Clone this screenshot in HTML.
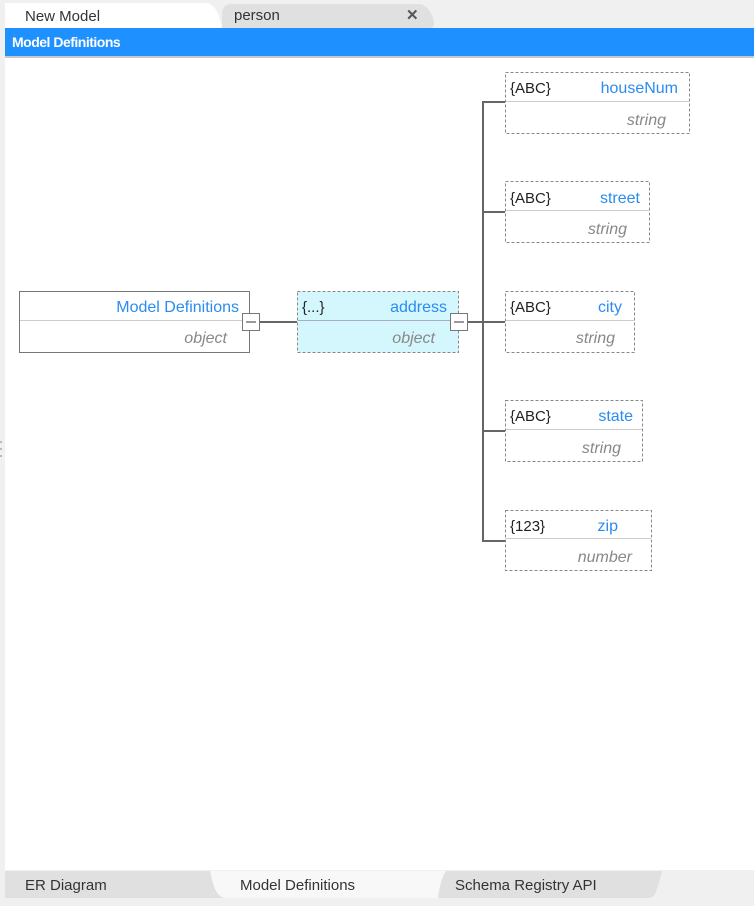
<!DOCTYPE html>
<html><head><meta charset="utf-8"><style>
html,body{margin:0;padding:0;width:754px;height:906px;overflow:hidden;background:#f0f0f0;font-family:"Liberation Sans",sans-serif}
</style></head><body>
<svg width="754" height="906" xmlns="http://www.w3.org/2000/svg" style="position:absolute;left:0;top:0">
<rect x="0" y="0" width="754" height="906" fill="#f0f0f0"/>
<path d="M222,28 L430,28 Q436,28 433,18 Q428,4 418,4 L232,4 Q222,4 222,14 Z" fill="#e0e0e0"/>
<path d="M5,28 L222,28 Q218,6 208,3 L5,3 Z" fill="#ffffff"/>
<text x="25" y="21" font-size="15" fill="#333">New Model</text>
<text x="234" y="20" font-size="15" fill="#333">person</text>
<text x="406" y="20" font-size="15" font-weight="bold" fill="#555">✕</text>
<rect x="5" y="28" width="749" height="28" fill="#1e90ff"/>
<rect x="5" y="56" width="749" height="2" fill="#c8c8c8"/>
<text x="12" y="47" font-size="14" font-weight="bold" fill="#fff" letter-spacing="-0.5">Model Definitions</text>
<rect x="5" y="58" width="749" height="812" fill="#ffffff"/>
<circle cx="1" cy="442" r="1" fill="#aaa"/><circle cx="1" cy="449" r="1" fill="#aaa"/><circle cx="1" cy="456" r="1" fill="#aaa"/>
<g stroke="#666" stroke-width="2" fill="none">
<line x1="260" y1="322" x2="297" y2="322"/>
<line x1="468" y1="322" x2="505" y2="322"/>
<path d="M505,102 L483,102 L483,541 L505,541"/>
<line x1="483" y1="212" x2="505" y2="212"/>
<line x1="483" y1="431" x2="505" y2="431"/>
</g>
<rect x="19.5" y="291.5" width="230" height="61" fill="#fff" stroke="#777"/>
<line x1="20" y1="320.5" x2="249" y2="320.5" stroke="#ccc"/>
<text x="239" y="312" font-size="16" fill="#2a8cf0" text-anchor="end">Model Definitions</text>
<text x="227" y="343" font-size="16" fill="#888" font-style="italic" text-anchor="end">object</text>
<rect x="242.5" y="313.5" width="17" height="17" fill="#fff" stroke="#777"/>
<line x1="246" y1="322" x2="256" y2="322" stroke="#777" stroke-width="1.5"/>
<rect x="297.5" y="291.5" width="161" height="61" fill="#d4f7fd" stroke="#888" stroke-dasharray="3,2"/>
<line x1="298" y1="320.5" x2="458" y2="320.5" stroke="#aac"/>
<text x="302" y="312" font-size="15" fill="#222">{...}</text>
<text x="447" y="312" font-size="16" fill="#2a8cf0" text-anchor="end">address</text>
<text x="435" y="343" font-size="16" fill="#888" font-style="italic" text-anchor="end">object</text>
<rect x="450.5" y="313.5" width="17" height="17" fill="#fff" stroke="#777"/>
<line x1="454" y1="322" x2="464" y2="322" stroke="#777" stroke-width="1.5"/>
<g font-size="16">
<rect x="505.5" y="72.5" width="184" height="61" fill="#fff" stroke="#888" stroke-dasharray="3,2"/>
<line x1="506" y1="101.5" x2="689" y2="101.5" stroke="#ccc"/>
<text x="510" y="93" font-size="15" fill="#222">{ABC}</text>
<text x="678" y="93" fill="#2a8cf0" text-anchor="end">houseNum</text>
<text x="666" y="125" fill="#888" font-style="italic" text-anchor="end">string</text>
<rect x="505.5" y="181.5" width="144" height="61" fill="#fff" stroke="#888" stroke-dasharray="3,2"/>
<line x1="506" y1="210.5" x2="649" y2="210.5" stroke="#ccc"/>
<text x="510" y="203" font-size="15" fill="#222">{ABC}</text>
<text x="640" y="203" fill="#2a8cf0" text-anchor="end">street</text>
<text x="627" y="234" fill="#888" font-style="italic" text-anchor="end">string</text>
<rect x="505.5" y="291.5" width="129" height="61" fill="#fff" stroke="#888" stroke-dasharray="3,2"/>
<line x1="506" y1="320.5" x2="634" y2="320.5" stroke="#ccc"/>
<text x="510" y="312" font-size="15" fill="#222">{ABC}</text>
<text x="622" y="312" fill="#2a8cf0" text-anchor="end">city</text>
<text x="615" y="343" fill="#888" font-style="italic" text-anchor="end">string</text>
<rect x="505.5" y="400.5" width="137" height="61" fill="#fff" stroke="#888" stroke-dasharray="3,2"/>
<line x1="506" y1="429.5" x2="642" y2="429.5" stroke="#ccc"/>
<text x="510" y="421" font-size="15" fill="#222">{ABC}</text>
<text x="633" y="421" fill="#2a8cf0" text-anchor="end">state</text>
<text x="621" y="453" fill="#888" font-style="italic" text-anchor="end">string</text>
<rect x="505.5" y="510.5" width="146" height="60" fill="#fff" stroke="#888" stroke-dasharray="3,2"/>
<line x1="506" y1="538.5" x2="651" y2="538.5" stroke="#ccc"/>
<text x="510" y="531" font-size="15" fill="#222">{123}</text>
<text x="618" y="531" fill="#2a8cf0" text-anchor="end">zip</text>
<text x="632" y="562" fill="#888" font-style="italic" text-anchor="end">number</text>
</g>
<rect x="5" y="871" width="440" height="27" fill="#e0e0e0"/>
<path d="M440,871 L662,871 Q660,880 656,892 Q654,898 648,898 L436,898 Z" fill="#e0e0e0"/>
<path d="M210,871 L446,871 Q440,880 438,898 L224,898 Q216,896 212,880 Z" fill="#f8f8f8"/>
<text x="25" y="890" font-size="15" fill="#333">ER Diagram</text>
<text x="240" y="890" font-size="15" fill="#333">Model Definitions</text>
<text x="455" y="890" font-size="15" fill="#333">Schema Registry API</text>
</svg>
</body></html>
